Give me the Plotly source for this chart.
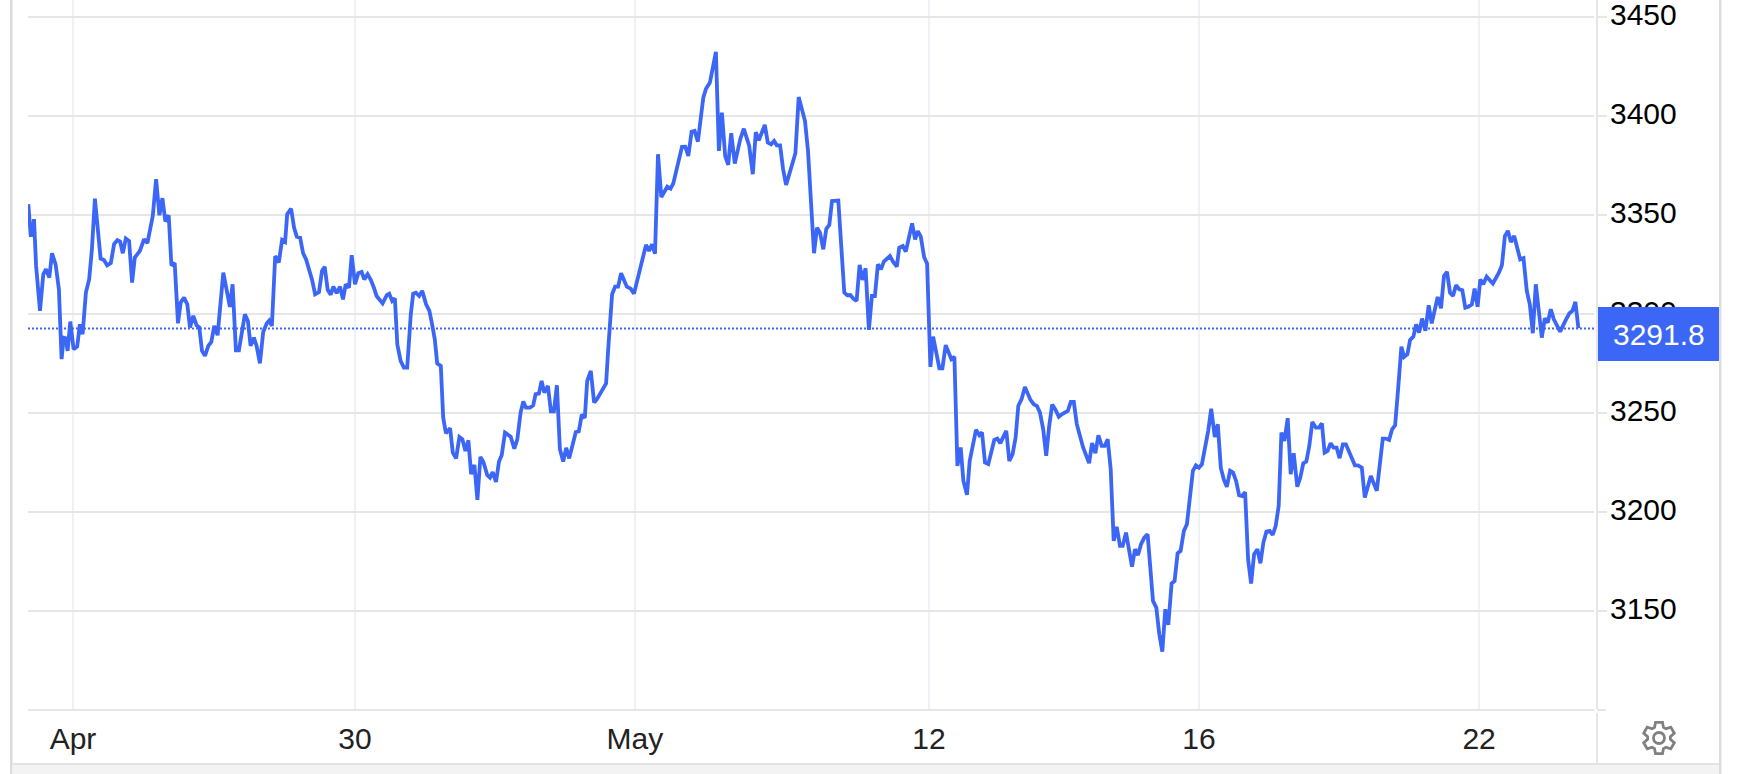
import math
import plotly.graph_objects as go

W, H = 1738, 774

bars = [0.1,0.9,1.3,2.0,2.7,4.0,5.1,6.0,7.1,8.0,9.2,10.3,11.2,11.9,12.6,13.2,14.1,15.2,16.4,17.3,18.2,19.3,20.4,21.3,22.3,24.2,25.3,26.4,27.6,28.7,29.8,30.7,31.6,32.6,33.7,34.7,35.6,37.3,38.7,39.8,41.6,42.7,43.8,44.8,45.8,46.9,47.8,48.9,50.0,50.9,52.0,53.1,54.0,55.1,56.2,57.1,58.0,59.0,60.1,61.1,62.1,63.2,65.1,67.3,68.2,69.3,70.3,72.3,73.3,74.2,75.3,76.2,77.3,78.4,79.6,80.4,81.3,82.4,83.6,84.7,85.7,86.4,87.7,88.7,89.6,90.7,91.7,92.7,94.7,95.7,97.0,98.0,98.9,99.9,100.9,101.8,102.9,104.0,105.0,105.9,107.0,107.9,109.0,110.1,111.2,112.1,113.2,114.3,115.3,116.2,118.2,119.6,120.4,121.4,122.3,123.1,124.2,125.3,126.4,127.6,
128.4,129.3,130.4,131.4,132.7,133.8,134.7,135.6,136.4,137.6,138.4,139.3,140.7,141.6,142.7,143.8,144.8,145.8,146.8,147.7,148.8,149.8,150.8,151.8,153.1,154.0,154.9,156.0,157.0,157.9,159.0,160.9,162.1,163.1,164.2,165.1,166.0,167.3,168.4,169.2,170.3,171.2,172.1,173.3,174.3,175.3,176.3,177.3,178.4,179.4,180.4,182.6,183.6,184.6,185.6,186.4,187.6,188.7,189.6,192.7,193.4,194.7,195.7,196.7,197.7,199.6,200.9,202.0,206.0,207.0,208.0,209.0,
210.0,211.1,213.1,214.2,215.1,218.0,219.1,220.1,221.2,222.2,223.3,224.2,225.1,226.0,227.3,229.3,230.3,231.3,232.4,233.4,234.4,235.6,237.4,238.6,240.4,241.6,242.6,243.6,245.6,246.6,247.7,248.7,249.6,250.7,251.7,252.7,254.8,255.8,256.9,259.0,260.0,262.0,263.0,264.0,265.1,266.1,267.1,268.0,270.1,272.1,273.1,274.1,275.1,276.2,277.2,278.2,279.2,280.3,281.3,282.3,283.3,284.3,285.3,287.3,288.4,289.6,290.4,291.6,292.6,294.7,295.7,296.6,297.6,298.7,299.7,
300.8,301.7,302.7,303.8,304.8,305.9,307.8,308.8,309.8,310.9,311.8,313.0,313.9,316.0,317.1,318.0,319.0,320.1,322.1,323.1,324.1,326.1,327.1,328.2,329.2,330.1,331.2,332.3,334.2,335.3,336.3,337.3,338.4,339.4,340.4,341.4,342.4,343.6,344.6,346.6,347.6,348.6,349.6,350.7,351.7,353.7,354.7,355.8,356.8,357.9,358.9,359.9,
360.9,361.9,362.9,364.0,364.9,366.0,367.0,368.0,369.0,370.0,371.0,372.1,373.2,374.2,375.0,376.1,377.1,378.1,379.1,380.1,381.2,382.2,383.2,384.2,385.3,386.3,387.3,388.3,389.3,390.3,391.3,392.3,393.4,394.4,395.6,396.6,397.6,398.6,399.6,400.7,401.7,402.7,403.7,404.7,405.7,406.7,407.7,408.7,409.8,410.8,411.8,412.8,413.9,414.9,415.9,416.9,417.8,418.8,419.9,420.9,421.9,423.1,424.1,425.1,426.1,427.1,428.1,429.3,430.3,431.3,432.2,433.2,434.2,435.2,436.2,437.2,438.3,439.3,442.3,443.3,444.6,445.6,447.6,449.6,
451.6,452.6,453.7,454.7,455.7,456.7,457.8,458.7,459.8,460.7,461.8,462.7,463.7,464.7,465.8,466.9,467.9,469.9,471.0,472.0,473.0,474.0,475.0,476.0,477.1,478.1,479.1,480.1,481.3,482.2,483.2,484.1,485.1,486.2,488.3,490.3,491.3,492.3,493.3,494.3,495.4,497.4,498.5,499.6,500.6,501.6,502.6,504.6,505.6,506.6,507.6,508.6,510.7,512.7,513.8,514.8,515.8,516.8]

price = [3355.6,3339.9,3339.9,3348.0,3324.4,3301.7,3320.2,3322.7,3318.5,3330.8,3325.2,3312.6,3277.3,3288.2,3287.9,3281.5,3296.3,3282.3,3283.7,3295.0,3289.9,3310.9,3317.7,3332.8,3358.4,3328.1,3327.4,3324.7,3325.8,3335.4,3337.4,3336.7,3330.8,3338.2,3337.0,3316.0,3328.6,3332.0,3337.9,3335.9,3349.7,3368.2,3350.0,3358.6,3346.8,3350.0,3324.7,3325.8,3295.4,3305.9,3308.4,3305.0,3293.3,3299.2,3294.4,3293.3,3281.5,3279.0,3284.0,3286.0,3294.1,3289.4,3321.0,3303.7,3315.1,3281.8,3281.8,3300.0,3296.6,3284.0,3288.2,3284.0,3275.2,3291.0,3295.4,3296.8,3294.1,3329.4,3326.1,3337.5,3336.5,3350.5,3353.3,3343.7,3339.2,3338.7,3330.8,3327.7,3317.3,3310.1,3311.2,3321.9,3324.0,3312.3,3309.9,3313.9,3310.6,3313.9,3307.5,3315.1,3313.4,3329.8,3315.1,3320.7,3321.3,3317.6,3320.2,3317.3,3313.4,3309.2,3305.5,3309.7,3310.4,3306.7,3308.0,3284.8,3276.4,3273.0,3273.0,3300.0,
3310.4,3310.9,3309.2,3311.8,3305.0,3301.7,3294.9,3287.3,3275.1,3273.9,3247.8,3239.9,3242.4,3230.1,3227.2,3238.0,3236.8,3230.9,3236.3,3219.2,3223.9,3206.2,3227.9,3225.4,3218.7,3217.5,3220.3,3215.3,3225.6,3228.8,3240.2,3238.2,3232.1,3236.8,3250.3,3255.9,3252.8,3252.8,3254.0,3259.6,3259.9,3266.3,3260.4,3263.8,3251.0,3251.0,3264.1,3231.8,3225.6,3232.5,3227.2,3240.5,3240.9,3249.3,3247.6,3266.3,3271.4,3255.4,3257.0,3265.1,3282.3,3310.1,3313.9,3313.9,3320.7,3313.9,3312.9,3310.4,3335.0,3332.0,3335.3,3330.6,
3380.8,3359.2,3364.4,3363.4,3366.1,3384.5,3384.6,3379.9,3392.2,3392.6,3387.2,3396.8,3409.4,3413.9,3417.0,3432.5,3382.5,3401.8,3379.9,3375.4,3391.4,3376.1,3388.3,3393.7,3385.0,3370.7,3392.0,3387.9,3395.6,3386.7,3385.8,3387.5,3385.3,3385.3,3373.2,3365.3,3377.4,3381.3,3409.7,3397.6,3382.5,3330.8,3343.7,3341.2,3332.8,3343.2,3345.1,3357.2,3357.4,3310.9,3309.6,3309.7,3307.9,3306.7,3324.9,3317.3,3323.2,3292.1,3309.2,3309.2,3325.2,3322.7,3326.6,3329.4,3326.4,3324.0,3333.6,3334.5,3331.6,3345.9,3337.8,3342.0,3339.2,3328.9,3325.5,
3273.4,3288.7,3280.7,3272.7,3272.7,3284.4,3277.3,3278.5,3223.4,3232.7,3215.8,3208.8,3225.9,3241.6,3238.9,3240.3,3225.1,3224.3,3236.5,3237.2,3234.9,3241.1,3225.9,3229.3,3237.7,3253.7,3257.1,3263.3,3256.6,3254.4,3253.7,3250.4,3241.9,3228.5,3243.6,3254.4,3252.0,3248.2,3249.5,3251.2,3255.7,3255.7,3244.5,3238.6,3232.7,3224.8,3234.9,3229.8,3238.9,3233.5,3233.5,3236.9,
3221.7,3185.5,3192.6,3183.0,3183.0,3189.7,3182.1,3172.5,3181.3,3178.4,3183.8,3187.2,3188.9,3172.9,3155.2,3151.8,3138.4,3129.6,3151.0,3143.1,3164.0,3165.3,3179.3,3180.5,3190.6,3193.9,3205.7,3220.9,3223.7,3222.5,3224.2,3232.6,3241.1,3252.3,3238.0,3244.4,3222.5,3216.6,3212.8,3220.9,3220.0,3215.8,3208.6,3208.2,3210.2,3176.2,3164.0,3178.8,3181.3,3174.2,3184.7,3190.2,3190.6,3188.5,3193.1,3203.2,3240.2,3236.0,3247.5,3219.2,3229.8,3212.9,3217.5,3224.7,3225.6,3233.5,3245.6,3242.7,3242.7,3244.9,3230.1,3231.0,3234.8,3232.6,3232.6,3227.3,3234.3,3234.3,3223.7,3223.7,3222.5,3207.4,3218.3,3210.8,
3237.2,3237.2,3236.5,3241.9,3243.9,3262.1,3283.6,3278.4,3279.8,3287.0,3288.7,3294.9,3290.7,3297.8,3291.6,3304.5,3295.4,3308.7,3303.0,3319.3,3321.4,3310.9,3309.2,3314.6,3312.6,3312.1,3303.3,3303.8,3305.0,3312.9,3303.8,3317.6,3315.1,3319.0,3315.5,3321.0,3324.7,3339.5,3342.1,3336.5,3339.5,3327.7,3328.3,3311.8,3305.0,3290.4,3315.1,3288.2,3297.9,3295.8,3302.5,3297.4,3291.2,3297.4,3300.5,3301.7,3306.2,3292.9]

x_tick_bars = [15, 109, 202.3, 300.3, 390.3, 483.7]
x_tick_text = ["Apr", "30", "May", "12", "16", "22"]
y_ticks = [3150, 3200, 3250, 3300, 3350, 3400, 3450]
y_tick_text = ["3150", "3200", "3250", "3300", "3350", "3400", "3450"]
last_level = 3292.8
last_text = "3291.8"

BLUE = "#3b66f6"
GRID = "#e6e6e6"
VGRID = "#eef1f5"
BORDER = "#dcdcdc"
FONT = "Liberation Sans, Arial, sans-serif"


def px(x):
    return x / W


def py(y):
    return 1 - y / H


fig = go.Figure()
fig.add_trace(go.Scatter(x=bars, y=price, mode="lines", hoverinfo="skip", showlegend=False,
                         line=dict(color=BLUE, width=3.8, shape="linear")))


def rect(x0, y0, x1, y1, fill, layer="below"):
    return dict(type="rect", xref="paper", yref="paper", x0=px(x0), x1=px(x1), y0=py(y0), y1=py(y1),
                fillcolor=fill, line=dict(width=0), layer=layer)


# gear icon outline
def gear_path(cx, cy, r_out, r_in, teeth=6):
    pts = []
    step = 2 * math.pi / teeth
    for i in range(teeth):
        a = -math.pi / 2 + i * step
        for da, r in ((-0.40, r_in), (-0.22, r_out), (0.22, r_out), (0.40, r_in)):
            pts.append((cx + r * math.cos(a + da), cy + r * math.sin(a + da)))
    return "M " + " L ".join(f"{px(x):.5f},{py(y):.5f}" for x, y in pts) + " Z"


shapes = [
    rect(10, 0, 12.5, H, BORDER),
    rect(1719, 0, 1721.5, H, BORDER),
    rect(12.5, 765, 1719, H, "#f3f3f3"),
    rect(12.5, 763, 1719, 765, "#e3e3e3"),
    rect(1596, 713, 1598, 763, GRID),
    rect(1597, 709, 1606, 711, GRID),
    dict(type="line", xref="x", yref="y", x0=0, x1=523.3, y0=last_level, y1=last_level, layer="above",
         line=dict(color=BLUE, width=2, dash="2px,2px")),
    rect(1598, 307, 1719, 361, BLUE, layer="above"),
    dict(type="path", xref="paper", yref="paper", path=gear_path(1659, 738, 16, 11.5), layer="above",
         line=dict(color="#808080", width=2.8), fillcolor="rgba(0,0,0,0)"),
    dict(type="circle", xref="paper", yref="paper", x0=px(1653.5), x1=px(1664.5), y0=py(743.5), y1=py(732.5),
         layer="above", line=dict(color="#808080", width=2.8), fillcolor="rgba(0,0,0,0)"),
]

fig.update_layout(
    width=W, height=H, autosize=False,
    margin=dict(l=0, r=0, t=0, b=0, pad=0),
    paper_bgcolor="white", plot_bgcolor="white",
    font=dict(family=FONT, size=30, color="#000000"),
    showlegend=False,
    shapes=shapes,
    annotations=[dict(text=last_text, xref="paper", yref="paper", x=px(1658.5), y=py(335), showarrow=False,
                      xanchor="center", yanchor="middle", font=dict(color="white", size=30, family=FONT))],
    xaxis=dict(domain=[px(28), px(1594)], range=[0, 522], tickmode="array", tickvals=x_tick_bars,
               ticktext=x_tick_text, showgrid=True, gridcolor=VGRID, gridwidth=2, zeroline=False,
               showline=True, linecolor=GRID, linewidth=2, ticks="", ticklabelstandoff=2, automargin=False,
               tickfont=dict(size=30, color="#222222"), fixedrange=True),
    yaxis=dict(domain=[py(709), 1], range=[3100.62, 3458.7], side="right", anchor="free", position=px(1597),
               tickmode="array", tickvals=y_ticks, ticktext=y_tick_text, showgrid=True, gridcolor=GRID, gridwidth=2,
               zeroline=False, showline=True, linecolor=GRID, linewidth=2, ticks="outside", ticklen=9, tickwidth=2,
               tickcolor=GRID, ticklabelshift=-3, ticklabelstandoff=-3, ticklabeloverflow="allow", automargin=False,
               tickfont=dict(size=30, color="#000000"), fixedrange=True),
)

fig.write_html("out.html", config=dict(displayModeBar=False),
               post_script="document.body.style.margin='0';document.body.style.overflow='hidden';")
